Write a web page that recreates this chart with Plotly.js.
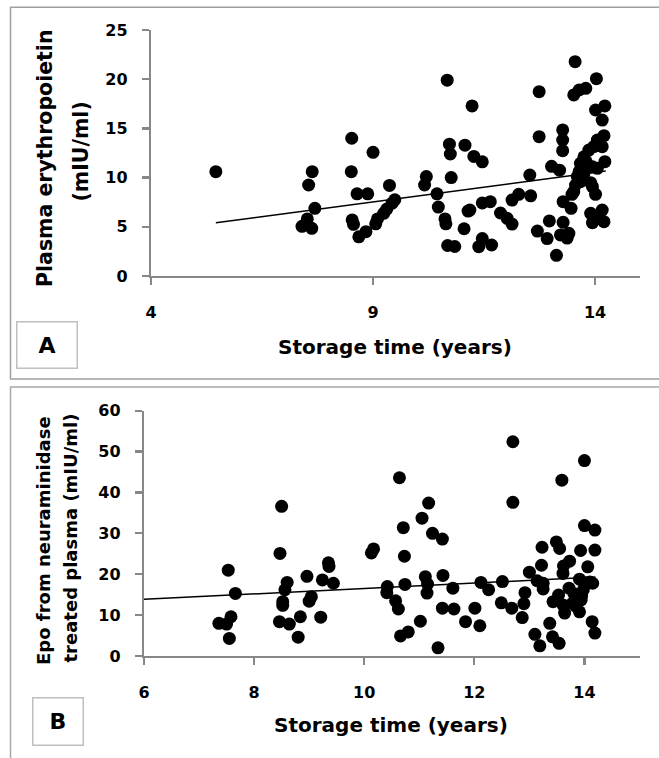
<!DOCTYPE html>
<html><head><meta charset="utf-8">
<script src="https://cdn.plot.ly/plotly-3.0.1.min.js"></script>
<style>html,body{margin:0;padding:0;background:#fff;}#chart{width:659px;height:758px;}</style>
</head><body><div id="chart"></div>
<script>
// Panel A: plasma erythropoietin vs storage time
const yearsA = [5.46,7.40,7.52,7.62,7.55,7.63,7.69,8.52,8.51,8.64,8.88,9.00,8.53,8.56,8.68,8.84,9.06,9.10,9.24,9.31,9.43,9.49,9.37,
  10.16,10.20,10.44,10.47,10.62,10.64,10.68,10.84,10.67,10.72,10.74,10.76,11.07,11.23,11.27,11.46,11.05,11.14,11.18,11.46,11.64,
  11.38,11.46,11.67,11.87,12.02,12.13,12.13,12.28,12.55,12.53,12.74,12.74,12.70,12.92,12.97,13.13,13.02,13.20,13.27,13.27,13.27,
  13.28,13.46,13.28,13.22,13.41,13.37,13.52,13.64,13.79,13.55,14.03,14.01,14.22,14.16,14.20,14.16,14.05,14.22,13.86,13.97,13.75,
  13.67,13.64,13.60,13.56,13.52,13.48,13.67,13.75,13.94,14.05,13.90,13.94,14.01,13.90,13.94,14.16,14.20,14.09,13.70,13.80];
const epoA = [10.6,5.05,5.8,4.85,9.25,10.6,6.88,14.0,10.6,8.35,8.35,12.57,5.7,5.25,3.98,4.5,5.3,5.8,6.37,6.8,7.4,7.75,9.2,
  9.25,10.1,8.35,7.0,5.8,5.3,3.1,3.0,19.9,13.4,12.4,10.0,13.3,17.28,12.15,11.6,4.8,6.6,6.7,7.43,7.55,
  2.98,3.8,3.15,6.4,5.86,5.28,7.72,8.3,8.15,10.26,18.73,14.16,4.57,3.8,5.6,2.1,11.15,10.75,14.84,13.82,12.74,
  7.55,6.88,5.45,4.17,4.34,3.85,18.4,18.9,19.07,21.78,20.05,16.87,17.28,15.85,14.26,13.14,13.82,11.62,12.8,13.14,12.12,
  11.45,10.6,10.1,9.25,8.57,8.3,9.58,10.44,11.1,10.94,9.48,9.08,8.3,6.37,5.42,6.7,5.52,5.86,11.0,11.6];
const trendYearsA = [5.46, 14.24];
const trendEpoA = [5.4, 10.67];

// Panel B: Epo from neuraminidase treated plasma vs storage time
const yearsB = [7.36,7.50,7.58,7.53,7.66,7.55,8.50,8.47,8.60,8.56,8.52,8.52,8.46,8.64,8.84,8.80,8.96,9.04,9.00,9.24,9.21,9.35,9.36,9.44,
  10.13,10.17,10.42,10.41,10.57,10.62,10.64,10.71,10.73,10.74,10.66,10.80,11.02,11.05,11.17,11.24,11.42,11.11,11.15,11.14,11.34,
  11.43,11.42,11.63,11.61,11.84,12.01,12.10,12.12,12.26,12.51,12.49,12.68,12.70,12.70,12.87,12.90,12.92,13.00,13.10,13.19,13.23,
  13.22,13.14,13.25,13.25,13.37,13.42,13.54,13.49,13.55,13.59,13.62,13.73,13.61,13.43,13.53,13.64,13.61,13.91,14.05,14.15,14.00,
  14.00,14.19,13.93,14.19,14.06,14.14,14.19,13.91,13.72,13.81,13.86,13.78,13.94,13.98,14.10,13.84,13.95];
const epoB = [8.0,7.8,9.6,21.0,15.3,4.3,36.6,25.1,18.0,16.2,13.3,12.4,8.4,7.8,9.6,4.6,19.5,14.5,13.4,18.6,9.5,22.8,21.9,17.8,
  25.2,26.2,17.0,15.5,13.5,11.5,43.6,31.4,24.4,17.5,4.9,5.9,8.5,33.7,37.4,30.0,28.6,19.4,17.6,15.4,2.0,
  19.7,11.7,11.5,16.6,8.4,11.7,7.4,18.0,16.2,18.2,13.0,11.7,52.4,37.6,9.4,12.8,15.5,20.5,5.3,2.5,26.6,
  22.2,18.4,17.8,16.4,8.0,4.7,3.1,27.9,26.3,43.0,22.0,23.2,20.2,13.3,14.9,10.5,12.5,18.8,17.9,17.8,47.8,
  31.9,30.8,25.8,25.9,21.8,8.4,5.6,10.8,16.6,15.2,14.0,12.9,13.7,16.2,18.1,12.2,14.8];
const trendYearsB = [6, 14.2];
const trendEpoB = [13.86, 19.3];

const xTicksA = [4, 9, 14];
const yTicksA = [0, 5, 10, 15, 20, 25];
const xTicksB = [6, 8, 10, 12, 14];
const yTicksB = [0, 10, 20, 30, 40, 50, 60];

const W = 659, H = 758;
const px = v => v / W;
const py = v => 1 - v / H;
const FONT = 'DejaVu Sans';
const axisGray = '#878787';

function axisBase(extra) {
  return Object.assign({
    showline: true, linecolor: axisGray, linewidth: 2.25,
    ticks: 'outside', ticklen: 7, tickwidth: 2.25, tickcolor: axisGray,
    showgrid: false, zeroline: false, fixedrange: true,
    tickfont: {family: FONT, size: 16, color: '#000', weight: 'bold'}
  }, extra);
}

const marker = {size: 13, color: '#000', line: {width: 0}};
const traces = [
  {type: 'scatter', mode: 'markers', x: yearsA, y: epoA, xaxis: 'x', yaxis: 'y', marker: marker, hoverinfo: 'x+y'},
  {type: 'scatter', mode: 'lines', x: trendYearsA, y: trendEpoA, xaxis: 'x', yaxis: 'y', line: {color: '#000', width: 1.5}, hoverinfo: 'skip'},
  {type: 'scatter', mode: 'markers', x: yearsB, y: epoB, xaxis: 'x2', yaxis: 'y2', marker: marker, hoverinfo: 'x+y'},
  {type: 'scatter', mode: 'lines', x: trendYearsB, y: trendEpoB, xaxis: 'x2', yaxis: 'y2', line: {color: '#000', width: 1.5}, hoverinfo: 'skip'}
];

function ann(text, x, y, size, angle, extra) {
  return Object.assign({
    text: text, xref: 'paper', yref: 'paper', x: px(x), y: py(y),
    xanchor: 'center', yanchor: 'middle', showarrow: false, textangle: angle || 0,
    font: {family: FONT, size: size, color: '#000', weight: 'bold'}
  }, extra || {});
}

const layout = {
  width: W, height: H, showlegend: false,
  paper_bgcolor: '#fff', plot_bgcolor: 'rgba(0,0,0,0)',
  margin: {l: 0, r: 0, t: 0, b: 0, pad: 0},
  xaxis: axisBase({domain: [px(151), px(639.5)], range: [4, 15], tickvals: xTicksA, anchor: 'y', ticklabelstandoff: 14}),
  yaxis: axisBase({domain: [py(276), py(30)], range: [0, 25], tickvals: yTicksA, anchor: 'x', ticklabelstandoff: 11}),
  xaxis2: axisBase({domain: [px(144), px(639.5)], range: [6, 15], tickvals: xTicksB, anchor: 'y2', ticklabelstandoff: 14}),
  yaxis2: axisBase({domain: [py(656), py(410.7)], range: [0, 60], tickvals: yTicksB, anchor: 'x2', ticklabelstandoff: 11}),
  shapes: [
    {type: 'rect', xref: 'paper', yref: 'paper', x0: px(10.5), x1: px(700), y0: py(379), y1: py(7.3), line: {color: '#a0a0a0', width: 1.5}},
    {type: 'rect', xref: 'paper', yref: 'paper', x0: px(10.5), x1: px(700), y0: py(800), y1: py(387), line: {color: '#a8a8a8', width: 1.5}}
  ],
  annotations: [
    ann('Plasma erythropoietin', 45, 158, 20.5, -90),
    ann('(mIU/ml)', 80.5, 152, 20.5, -90),
    ann('Storage time (years)', 395, 347, 20, 0),
    ann('A', 47.3, 344.5, 22, 0, {width: 59, height: 45, bordercolor: '#bfbfbf', borderwidth: 1.5, borderpad: 0}),
    ann('Epo from neuraminidase', 43, 541, 18, -90),
    ann('treated plasma (mIU/ml)', 69.5, 538, 18, -90),
    ann('Storage time (years)', 391, 725, 20, 0),
    ann('B', 57.6, 721, 22, 0, {width: 49, height: 46, bordercolor: '#bfbfbf', borderwidth: 1.5, borderpad: 0})
  ]
};

Plotly.newPlot('chart', traces, layout, {displayModeBar: false, staticPlot: true});
</script>
</body></html>
